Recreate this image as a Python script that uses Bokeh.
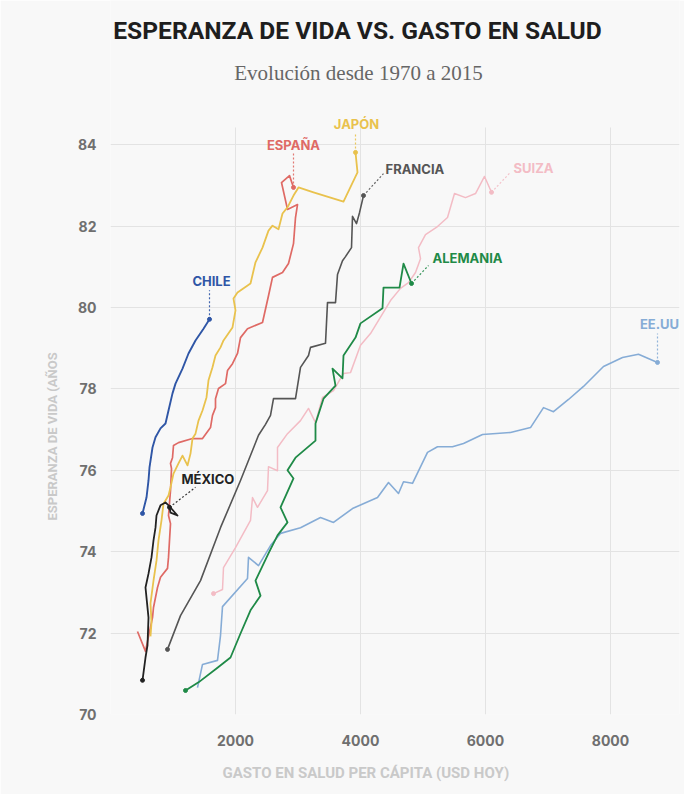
from bokeh.plotting import figure
from bokeh.models import Range1d, Label, FixedTicker, Title
from bokeh.embed import file_html
from bokeh.resources import INLINE

# ---------------- data (gasto en salud per cápita USD, esperanza de vida) ----------------
chile_gasto = [512, 576, 608, 624, 672, 720, 800, 880, 928, 992, 1040, 1152, 1248, 1360, 1488, 1584]
chile_vida = [74.94, 75.33, 75.75, 76.07, 76.56, 76.81, 77.03, 77.15, 77.47, 77.89, 78.13, 78.50, 78.87, 79.19, 79.48, 79.71]

japon_gasto = [640, 656, 640, 688, 736, 768, 816, 848, 928, 960, 1008, 1088, 1152, 1232, 1280, 1312, 1360, 1408,
               1472, 1536, 1568, 1632, 1680, 1760, 1808, 1952, 2000, 1968, 2032, 2240, 2320, 2432, 2528, 2592,
               2688, 2752, 2832, 2928, 3008, 3248, 3728, 3952, 3920]
japon_vida = [71.92, 72.26, 72.73, 73.29, 73.78, 74.28, 74.77, 75.18, 75.38, 75.58, 75.92, 76.17, 76.36, 76.12,
              76.41, 76.78, 76.90, 77.22, 77.47, 77.79, 78.21, 78.53, 78.82, 79.02, 79.19, 79.51, 79.93, 80.22,
              80.37, 80.59, 81.11, 81.47, 81.89, 82.01, 81.92, 82.31, 82.46, 82.75, 82.95, 82.83, 82.60, 83.32, 83.81]

espana_gasto = [432, 560, 608, 672, 688, 752, 800, 912, 928, 960, 928, 960, 976, 960, 992, 1008, 1088, 1312, 1472,
                1600, 1632, 1680, 1680, 1728, 1840, 1872, 1952, 2032, 2080, 2192, 2432, 2528, 2592, 2752, 2848,
                2928, 2960, 2992, 2832, 2736, 2864, 2928]
espana_vida = [72.04, 71.55, 71.92, 72.38, 72.63, 73.12, 73.37, 73.59, 73.86, 74.69, 74.89, 75.50, 76.04, 76.17,
               76.31, 76.61, 76.68, 76.78, 76.78, 77.05, 77.35, 77.54, 77.76, 78.01, 78.13, 78.45, 78.62, 78.87,
               79.26, 79.48, 79.63, 80.29, 80.74, 80.86, 81.08, 81.57, 82.21, 82.53, 82.41, 83.07, 83.24, 82.95]

mexico_gasto = [512, 560, 592, 608, 576, 560, 608, 656, 688, 720, 736, 800, 880, 928, 1072, 960, 944]
mexico_vida = [70.84, 71.40, 71.70, 72.38, 72.87, 73.12, 73.46, 73.86, 74.28, 74.59, 74.89, 75.14, 75.21, 75.14,
               74.89, 74.96, 75.09]

francia_gasto = [912, 1120, 1440, 1760, 2080, 2368, 2480, 2560, 2608, 2960, 3040, 3168, 3200, 3440, 3472, 3600,
                 3632, 3712, 3760, 3856, 3872, 3936, 3984, 4048]
francia_vida = [71.60, 72.43, 73.29, 74.59, 75.75, 76.86, 77.13, 77.35, 77.76, 77.76, 78.53, 78.82, 79.02, 79.12,
                80.12, 80.12, 80.81, 81.15, 81.25, 81.47, 82.24, 82.06, 82.33, 82.75]

suiza_gasto = [1648, 1792, 1808, 2000, 2240, 2272, 2352, 2512, 2528, 2672, 2672, 2832, 3040, 3168, 3280, 3392,
               3568, 3728, 3840, 4000, 4160, 4480, 4640, 4768, 4880, 4960, 4928, 5040, 5232, 5392, 5504, 5680,
               5840, 5984, 6096]
suiza_vida = [72.97, 73.07, 73.61, 74.10, 74.77, 75.33, 75.09, 75.50, 76.09, 75.99, 76.56, 76.90, 77.22, 77.52,
              77.17, 77.79, 77.96, 78.38, 78.40, 79.07, 79.36, 80.17, 80.47, 80.61, 80.86, 81.20, 81.47, 81.79,
              81.99, 82.21, 82.80, 82.70, 82.80, 83.22, 82.83]

alemania_gasto = [1200, 1408, 1712, 1920, 2080, 2240, 2400, 2320, 2528, 2672, 2832, 2720, 2928, 2832, 2960, 3280,
                  3280, 3408, 3600, 3552, 3712, 3728, 3920, 4000, 4352, 4368, 4624, 4688, 4816]
alemania_vida = [70.59, 70.79, 71.15, 71.40, 71.99, 72.56, 72.92, 73.29, 73.96, 74.40, 74.72, 75.09, 75.80, 76.00,
                 76.31, 76.73, 77.15, 77.76, 78.08, 78.50, 78.26, 78.82, 79.26, 79.61, 79.98, 80.49, 80.49, 81.08,
                 80.59]

eeuu_gasto = [1392, 1472, 1712, 1760, 1792, 2192, 2208, 2368, 2560, 2720, 3040, 3360, 3568, 3872, 4272, 4448, 4608,
              4688, 4832, 5072, 5232, 5472, 5648, 5952, 6400, 6720, 6928, 7088, 7328, 7568, 7888, 8192, 8448, 8752]
eeuu_vida = [70.66, 71.23, 71.33, 71.94, 72.65, 73.34, 73.86, 73.66, 74.15, 74.45, 74.59, 74.84, 74.72, 75.06,
             75.33, 75.70, 75.43, 75.72, 75.68, 76.44, 76.58, 76.58, 76.66, 76.88, 76.93, 77.05, 77.54, 77.44,
             77.74, 78.06, 78.55, 78.77, 78.85, 78.65]

x_ticks = [2000, 4000, 6000, 8000]
y_ticks = [70, 72, 74, 76, 78, 80, 82, 84]

titulo = "ESPERANZA DE VIDA VS. GASTO EN SALUD"
subtitulo = "Evolución desde 1970 a 2015"
x_titulo = "GASTO EN SALUD PER CÁPITA (USD HOY)"
y_titulo = "ESPERANZA DE VIDA (AÑOS"

# ---------------- layout ----------------
W, H = 684, 794
FL, FW = 110, 569          # frame left / width (px)
FB = 714                   # frame bottom (px); frame reaches the top of the canvas
PLOT_TOP = 127             # where the drawn chart area starts (px)
X0, X1 = 0, 9104
Y0 = 70
YPX = 40.7                 # px per year
XPX = FW / (X1 - X0)
Y1 = Y0 + FB / YPX
Y_TOP = Y0 + (FB - PLOT_TOP) / YPX

BG = "#f8f8f8"
GRID = "#e3e3e3"
AXIS_TITLE = "#c9c9c9"


def scr(sx, sy):
    """canvas pixel -> data coordinates"""
    return X0 + (sx - FL) / XPX, Y1 - sy / YPX


p = figure(width=W, height=H, x_range=Range1d(X0, X1), y_range=Range1d(Y0, Y1),
           output_backend="svg", toolbar_location=None,
           min_border_left=FL, min_border_right=W - FL - FW,
           min_border_top=0, min_border_bottom=H - FB)
p.background_fill_color = BG
p.border_fill_color = BG
p.outline_line_color = None

for ax in (p.xaxis[0], p.yaxis[0]):
    ax.axis_line_color = None
    ax.major_tick_line_color = None
    ax.minor_tick_line_color = None
    ax.major_label_text_font = "Inter"
    ax.major_label_text_font_style = "bold"
    ax.major_label_text_font_size = "14px"
    ax.major_label_text_color = "#6f6f6f"
p.xaxis.ticker = FixedTicker(ticks=x_ticks)
p.yaxis.ticker = FixedTicker(ticks=y_ticks)
p.xaxis.major_label_standoff = 14
p.yaxis.major_label_standoff = 8

# axis titles as side titles so they can be placed along the axis like the reference
p.add_layout(Title(text=x_titulo, align="left", offset=112, standoff=26,
                   text_font="Roboto", text_font_style="bold", text_font_size="15px",
                   text_color=AXIS_TITLE), "below")
p.add_layout(Title(text=y_titulo, align="left", offset=194, standoff=30,
                   text_font="Roboto", text_font_style="bold", text_font_size="13px",
                   text_color=AXIS_TITLE), "left")

p.ygrid.ticker = FixedTicker(ticks=y_ticks)
p.ygrid.grid_line_color = GRID
p.yaxis.bounds = (Y0, Y_TOP)
xg = p.xgrid[0]
xg.ticker = FixedTicker(ticks=x_ticks)
if "cross_bounds" in xg.properties():
    xg.cross_bounds = (Y0, Y_TOP)
    xg.grid_line_color = GRID
else:
    xg.visible = False
    p.segment(x0=x_ticks, y0=[Y0] * len(x_ticks), x1=x_ticks, y1=[Y_TOP] * len(x_ticks),
              line_color=GRID, line_width=1, level="underlay")

series = [
    ("EE.UU", eeuu_gasto, eeuu_vida, "#86acd6", 1.6, False, (0, 29), (2, 38), "center"),
    ("SUIZA", suiza_gasto, suiza_vida, "#f3bcc5", 1.5, True, (18, 19), (22, 24), "left"),
    ("ALEMANIA", alemania_gasto, alemania_vida, "#1f8a47", 1.8, True, (17, 18), (21, 25), "left"),
    ("FRANCIA", francia_gasto, francia_vida, "#555555", 1.6, True, (20, 22), (22, 27), "left"),
    ("ESPAÑA", espana_gasto, espana_vida, "#df6a65", 1.7, False, (0, 34), (0, 42), "center"),
    ("JAPÓN", japon_gasto, japon_vida, "#e9c24d", 1.8, False, (0, 19), (1, 28), "center"),
    ("MÉXICO", mexico_gasto, mexico_vida, "#222222", 1.8, True, (26, 20), (12, 28), "left"),
    ("CHILE", chile_gasto, chile_vida, "#2f56a6", 1.9, True, (0, 29), (2, 38), "center"),
]

for name, xs, ys, col, lw, start_dot, conn, lab, align in series:
    p.line(xs, ys, line_color=col, line_width=lw, line_join="round")
    ex, ey = xs[-1], ys[-1]
    dots_x = [ex] + ([xs[0]] if start_dot else [])
    dots_y = [ey] + ([ys[0]] if start_dot else [])
    p.scatter(dots_x, dots_y, size=4, fill_color=col, line_color=col)
    cx, cy = ex + conn[0] / XPX, ey + conn[1] / YPX
    p.segment(x0=[ex], y0=[ey], x1=[cx], y1=[cy], line_color=col, line_width=1.2,
              line_dash="2 2", line_alpha=0.9)
    lx, ly = ex + lab[0] / XPX, ey + lab[1] / YPX
    p.add_layout(Label(x=lx, y=ly, text=name, text_font="Inter", text_font_style="bold",
                       text_font_size="13px", text_color=col, text_align=align,
                       text_baseline="middle"))

tx, ty = scr(357, 30)
p.add_layout(Label(x=tx, y=ty, text=titulo, text_font="Roboto", text_font_style="bold",
                   text_font_size="24.6px", text_color="#1e1e1e", text_align="center", text_baseline="middle"))
sx_, sy_ = scr(358, 72)
p.add_layout(Label(x=sx_, y=sy_, text=subtitulo, text_font="Liberation Serif",
                   text_font_size="21px", text_color="#666666", text_align="center", text_baseline="middle"))

open("out.html", "w").write(file_html(p, INLINE))
